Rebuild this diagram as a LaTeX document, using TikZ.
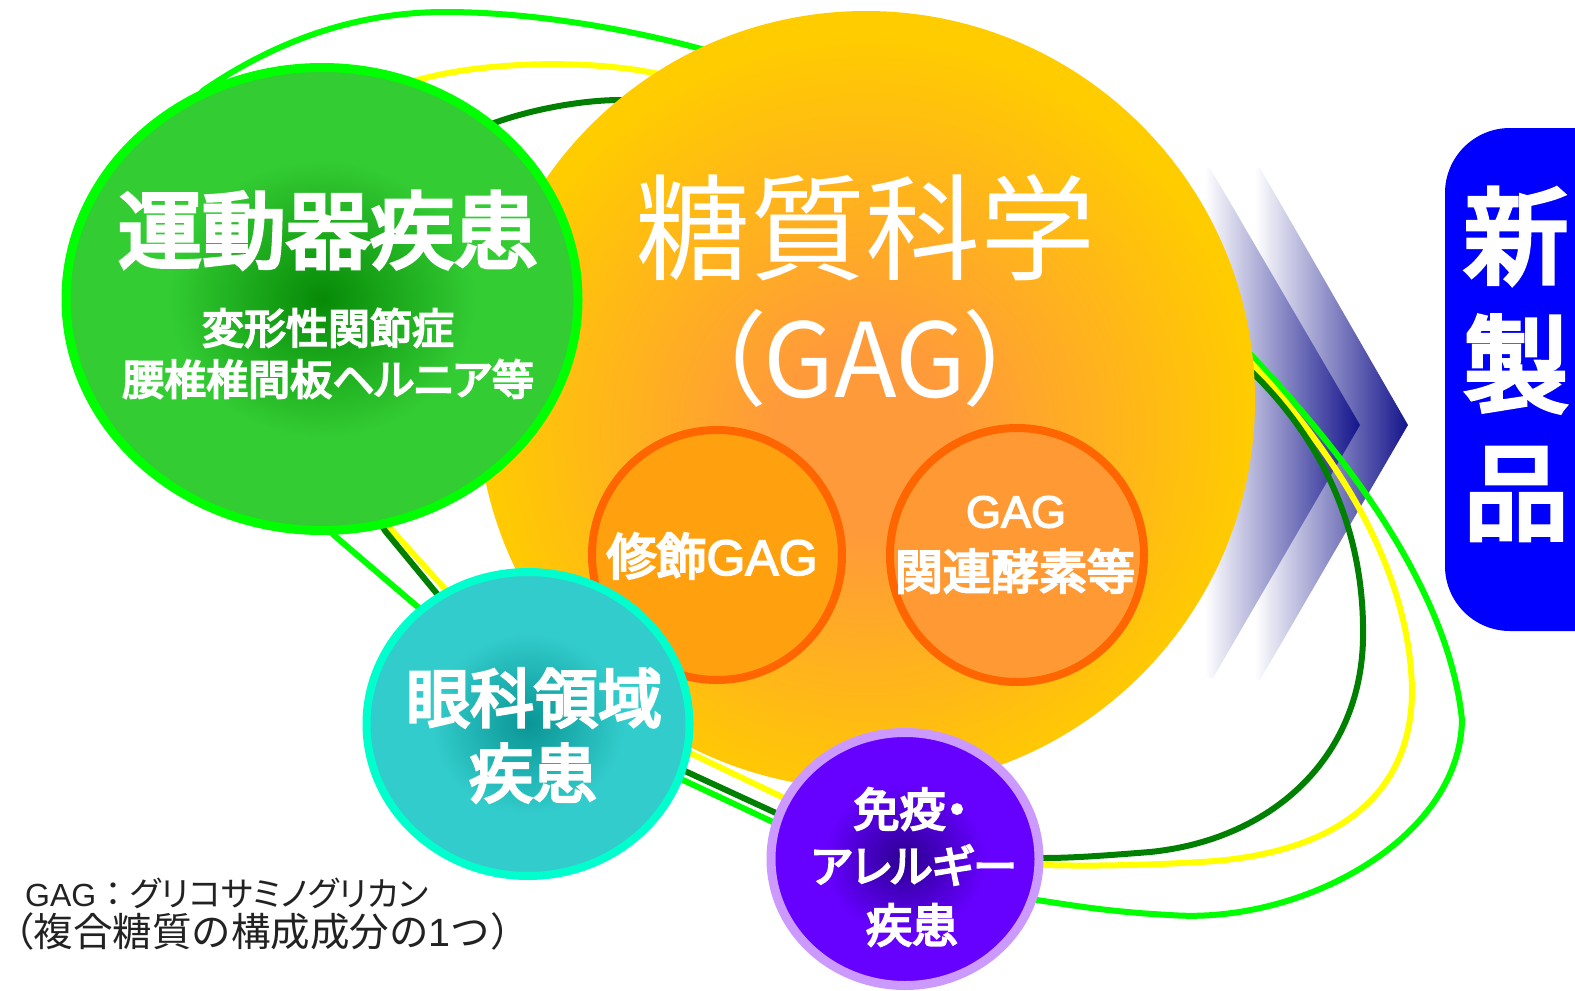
\documentclass[tikz,border=0pt]{standalone}
\usepackage{fontspec}
\setmainfont{Noto Sans CJK JP}
\newfontfamily\jpm{Noto Sans CJK JP}[FakeBold=4.5]
\newfontfamily\jpmp{Noto Sans CJK JP}[FakeBold=4.5,RawFeature=+palt]
\newfontfamily\jpp{Noto Sans CJK JP}[RawFeature=+palt]
\newfontfamily\lat{Liberation Sans}
\newfontfamily\latm{Liberation Sans}[FakeBold=3]
\usetikzlibrary{shapes.geometric}
\definecolor{orIn}{HTML}{FF9A3A}
\definecolor{orOut}{HTML}{FFCC00}
\definecolor{gIn}{HTML}{078A07}
\definecolor{gOut}{HTML}{33CC33}
\definecolor{tIn}{HTML}{0A9595}
\definecolor{tOut}{HTML}{33CCCC}
\definecolor{pIn}{HTML}{2A008F}
\definecolor{pOut}{HTML}{6600FF}
\definecolor{lgreen}{HTML}{00FF00}
\definecolor{dgreen}{HTML}{008000}
\definecolor{yel}{HTML}{FFFF00}
\definecolor{tealB}{HTML}{00FFCC}
\definecolor{purB}{HTML}{CC99FF}
\definecolor{smA}{HTML}{FFA00F}
\definecolor{smB}{HTML}{FF9933}
\definecolor{smBorder}{HTML}{FF6600}
\definecolor{navyC}{HTML}{14148C}
\definecolor{pblue}{HTML}{0000FF}
\definecolor{foot}{HTML}{222222}
\pgfdeclareradialshading{orangesh}{\pgfpoint{0bp}{-3bp}}{color(0bp)=(orIn); color(6bp)=(orIn); color(25bp)=(orOut); color(50bp)=(orOut)}
\pgfdeclareradialshading{greensh}{\pgfpoint{0bp}{0bp}}{color(0bp)=(gIn); color(15bp)=(gOut); color(50bp)=(gOut)}
\pgfdeclareradialshading{tealsh}{\pgfpoint{0bp}{0bp}}{color(0bp)=(tIn); color(15bp)=(tOut); color(50bp)=(tOut)}
\pgfdeclareradialshading{purplesh}{\pgfpoint{0bp}{0bp}}{color(0bp)=(pIn); color(15bp)=(pOut); color(50bp)=(pOut)}
\tikzset{
  loopline/.style={line width=6, line cap=round, line join=round},
  blob/.style={inner sep=0, outer sep=0},
  wtxt/.style={text=white, inner sep=0, outer sep=0},
  chev/.style={left color=white, right color=navyC, draw=none}
}
\begin{document}
\begin{tikzpicture}[x=1pt,y=-1pt]
\useasboundingbox (0,0) rectangle (1575,991);
% chevrons
\shade[chev] (1255,168) -- (1260,168) -- (1408,425) -- (1260,680) -- (1255,680) -- cycle;
\shade[chev] (1205,168) -- (1210,168) -- (1360,425) -- (1213,678) -- (1205,678) -- cycle;
% loops
\draw[loopline, draw=lgreen] (419,608) -- (336,537) .. controls (290,497) and (150,130) .. (204,90)
  .. controls (270,45) and (350,12) .. (445,12) .. controls (540,12) and (640,32) .. (705,50)
  .. controls (900,110) and (1150,250) .. (1253,357) .. controls (1360,470) and (1450,600) .. (1462,720)
  .. controls (1460,840) and (1300,925) .. (1170,915) .. controls (1110,912) and (1070,905) .. (1037,900)
  .. controls (950,880) and (850,840) .. (775,823) -- (683,780) .. controls (600,740) and (480,660) .. (419,608);
\draw[loopline, draw=yel] (444,588) -- (390,528) .. controls (340,483) and (338,103) .. (418,80)
  .. controls (480,62) and (590,58) .. (663,75) .. controls (850,120) and (1150,250) .. (1255,367)
  .. controls (1350,470) and (1410,580) .. (1412,690) .. controls (1412,800) and (1330,855) .. (1200,862)
  .. controls (1130,866) and (1080,866) .. (1044,865) .. controls (950,860) and (850,810) .. (782,797)
  -- (690,753) .. controls (600,710) and (500,640) .. (444,588);
\draw[loopline, draw=dgreen] (438,595) -- (386,532) .. controls (350,490) and (450,140) .. (494,123)
  .. controls (530,110) and (580,100) .. (621,100) .. controls (850,100) and (1150,270) .. (1255,375)
  .. controls (1330,450) and (1365,540) .. (1363,640) .. controls (1360,760) and (1270,840) .. (1150,852)
  .. controls (1100,856) and (1070,858) .. (1044,858) .. controls (950,850) and (850,820) .. (776,813)
  -- (687,772) .. controls (600,730) and (490,650) .. (438,595);
% big circle
\node[blob, circle, minimum size=778, shade, shading=orangesh] (gag) at (866,400) {};
\node[blob, circle, minimum size=250, fill=smA, draw=smBorder, line width=8] (mod) at (717,555) {};
\node[blob, circle, minimum size=254, fill=smB, draw=smBorder, line width=8] (enz) at (1017,555) {};
% disease circles
\node[blob, ellipse, minimum width=512, minimum height=463, shade, shading=greensh, draw=lgreen, line width=9] (loco) at (322,299) {};
\node[blob, ellipse, minimum width=323, minimum height=304, shade, shading=tealsh, draw=tealB, line width=8] (eye) at (528,724) {};
\node[blob, ellipse, minimum width=268, minimum height=253, shade, shading=purplesh, draw=purB, line width=9] (imm) at (905,859) {};
% product box
\node[blob, rectangle, rounded corners=65, fill=pblue, minimum width=210, minimum height=503] (prod) at (1550,379.5) {};
% texts
\node[wtxt, font=\jpm\fontsize{84}{84}\selectfont] (t1) at (328,230) {運動器疾患};
\node[wtxt, font=\jpm\fontsize{42}{42}\selectfont] (t2) at (328,328) {変形性関節症};
\node[wtxt, font=\jpmp\fontsize{42}{42}\selectfont] (t3) at (328,379) {腰椎椎間板ヘルニア等};
\node[wtxt, font=\fontsize{115}{115}\selectfont] (t4) at (865,228) {糖質科学};
\node[wtxt, font=\jpp\fontsize{103}{103}\selectfont] (t5) at (865,358) {（GAG）};
\node[wtxt, font=\jpm\fontsize{50}{50}\selectfont] (t6) at (712,556) {修飾{\latm GAG}};
\node[wtxt, font=\latm\fontsize{45}{45}\selectfont] (t7) at (1016,512) {GAG};
\node[wtxt, font=\jpm\fontsize{48}{48}\selectfont] (t8) at (1015,571) {関連酵素等};
\node[wtxt, font=\jpm\fontsize{64}{64}\selectfont] (t9) at (534,698) {眼科領域};
\node[wtxt, font=\jpm\fontsize{64}{64}\selectfont] (t10) at (533,773) {疾患};
\node[wtxt, font=\jpmp\fontsize{46}{46}\selectfont] (t11) at (911,809) {免疫・};
\node[wtxt, font=\jpmp\fontsize{44}{44}\selectfont] (t12) at (914,865) {アレルギー};
\node[wtxt, font=\jpm\fontsize{46}{46}\selectfont] (t13) at (912,925) {疾患};
\node[wtxt, font=\jpm\fontsize{105}{105}\selectfont] (t14) at (1516,236) {新};
\node[wtxt, font=\jpm\fontsize{105}{105}\selectfont] (t15) at (1516,364) {製};
\node[wtxt, font=\jpm\fontsize{105}{105}\selectfont] (t16) at (1516,494) {品};
\node[text=foot, inner sep=0, anchor=west, font=\fontsize{34}{34}\selectfont] (f1) at (25,893) {{\lat\fontsize{32}{32}\selectfont GAG}：{\jpp グリコサミノグリカン}};
\node[text=foot, inner sep=0, anchor=west, font=\fontsize{39.5}{39.5}\selectfont] (f2) at (14,931) {{\jpp （}複合糖質の構成成分の{\lat 1}つ）};
\end{tikzpicture}
\end{document}
